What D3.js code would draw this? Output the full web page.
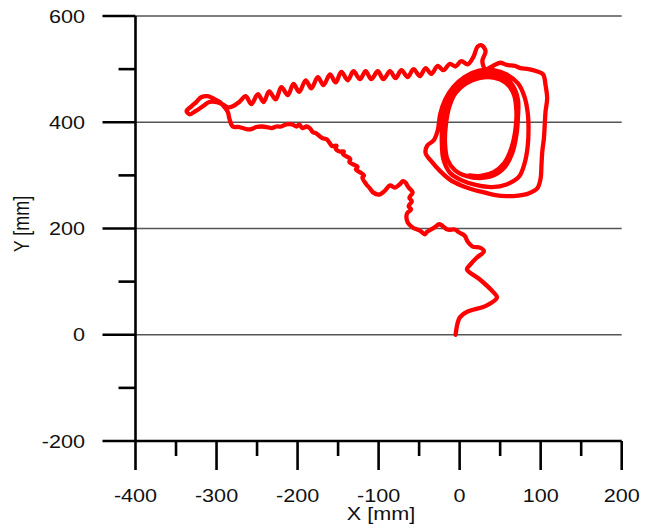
<!DOCTYPE html>
<html>
<head>
<meta charset="utf-8">
<script src="https://cdn.jsdelivr.net/npm/d3@7"></script>
<style>
  body { margin: 0; background: #fff; }
  text { font-family: "Liberation Sans", Arial, sans-serif; fill: #111; }
</style>
</head>
<body>
<div class="canva"></div>
<script>
// tick values
const xTicks = [-400, -300, -200, -100, 0, 100, 200];
const xMinor = [-350, -250, -150, -50, 50, 150];
const yTicks = [-200, 0, 200, 400, 600];
const yMinor = [-100, 100, 300, 500];
const gridY = [0, 200, 400, 600];

// trajectory [x mm, y mm]
const climbLeg = [[-5,0],[0,32],[9,43],[33,55],[46,70],[41,81],[25,104],[9,123],[12,130],[21,145],[30,157],[25,164],[16,166],[10,175],[6,187],[0,192],[-6,198],[-15,198],[-25,208],[-31,202],[-40,194],[-43,189],[-49,196],[-58,202],[-64,211],[-65,228],[-60,236],[-63,242],[-59,251],[-62,258],[-58,268],[-63,277],[-67,287],[-70,289],[-74,283],[-80,277],[-86,281],[-93,270],[-99,264],[-107,268],[-111,276]];

const westLeg = [[-115,283],[-120,296],[-118,300],[-123,306],[-128,311],[-126,316],[-132,321],[-136,325],[-135,331],[-140,336],[-144,340],[-143,345],[-148,345],[-153,351],[-152,356],[-157,355],[-160,360],[-164,368],[-169,370],[-173,374],[-177,379],[-181,381],[-185,389],[-189,392],[-194,389],[-198,396],[-201,392],[-207,396],[-214,396],[-220,392],[-226,392],[-232,389],[-238,391],[-244,392],[-251,391],[-257,387],[-263,387],[-272,391],[-280,392],[-284,406],[-286,419],[-290,428],[-296,438],[-302,443],[-311,449],[-319,447],[-325,438],[-331,430],[-337,421]];

const eastLeg = [[-333,415],[-326,421],[-317,430],[-309,438],[-300,438],[-293,434],[-286,428],[-280,430],[-272,438],[-264,449],[-257,434],[-249,453],[-242,438],[-235,458],[-227,443],[-220,466],[-212,451],[-205,472],[-198,457],[-190,479],[-183,464],[-175,485],[-168,470],[-160,490],[-153,475],[-146,495],[-138,479],[-131,496],[-123,481],[-116,496],[-109,481],[-101,496],[-94,481],[-86,496],[-79,483],[-72,498],[-64,485],[-57,500],[-49,487],[-42,502],[-35,491],[-27,506],[-20,498],[-12,510],[-5,505],[2,515],[10,509],[17,523],[22,542],[27,545],[32,534],[28,515],[32,500]];

const loopLeg = [[40,505],[50,512],[58,508],[68,506],[75,502],[85,500],[95,496],[103,490],[106,470],[108,445],[106,420],[105,395],[104,370],[102,345],[101,320],[100,295],[96,276],[85,266],[72,262],[58,261],[44,263],[30,268],[15,274],[2,281],[-12,292],[-24,308],[-34,325],[-42,342],[-40,356],[-32,366],[-27,385],[-24,415],[-18,442],[-8,466],[6,485],[24,497],[42,498],[58,490],[72,473],[80,448],[84,418],[85,388],[84,355],[80,322],[73,297],[58,283],[40,278],[20,282],[2,291],[-12,305],[-20,330],[-22,362],[-21,400],[-16,432],[-8,457],[4,476],[20,488],[38,492],[54,486],[66,468],[72,442],[72,410],[70,375],[65,342],[56,316],[42,300],[25,295],[8,299],[-6,310],[-15,330],[-18,360],[-17,395],[-13,428],[-5,455],[8,473],[24,483],[42,484],[57,474],[67,452],[70,422],[69,388],[64,352],[55,323],[42,306],[26,299],[12,300]];

const track = climbLeg.concat(westLeg, eastLeg, loopLeg);

const svg = d3.select(".canva").append("svg")
  .attr("width", 647)
  .attr("height", 528);

const x = d3.scaleLinear().domain([-400, 200]).range([135.5, 621.7]);
const y = d3.scaleLinear().domain([-200, 600]).range([441, 16]);

// gridlines
svg.selectAll(".grid").data(gridY).enter().append("line")
  .attr("x1", x(-400)).attr("x2", x(200))
  .attr("y1", d => y(d)).attr("y2", d => y(d))
  .attr("stroke", "#555").attr("stroke-width", 1.6);

// trajectory
const line = d3.line()
  .x(d => x(d[0])).y(d => y(d[1]))
  .curve(d3.curveCatmullRom.alpha(0.5));
svg.append("path")
  .attr("d", line(track))
  .attr("fill", "none")
  .attr("stroke", "#ff0000")
  .attr("stroke-width", 4.3)
  .attr("stroke-linejoin", "round")
  .attr("stroke-linecap", "round");

// axes
const ax = svg.append("g").attr("stroke", "#000").attr("stroke-width", 2.6);
ax.append("line").attr("x1", x(-400)).attr("x2", x(-400)).attr("y1", y(600)).attr("y2", y(-200));
ax.append("line").attr("x1", x(-400)).attr("x2", x(200)).attr("y1", y(-200)).attr("y2", y(-200));

ax.selectAll(".ym").data(yTicks).enter().append("line")
  .attr("x1", x(-400) - 33).attr("x2", x(-400))
  .attr("y1", d => y(d)).attr("y2", d => y(d));
ax.selectAll(".yn").data(yMinor).enter().append("line")
  .attr("x1", x(-400) - 17).attr("x2", x(-400))
  .attr("y1", d => y(d)).attr("y2", d => y(d));
ax.selectAll(".xm").data(xTicks).enter().append("line")
  .attr("x1", d => x(d)).attr("x2", d => x(d))
  .attr("y1", y(-200)).attr("y2", y(-200) + 29);
ax.selectAll(".xn").data(xMinor).enter().append("line")
  .attr("x1", d => x(d)).attr("x2", d => x(d))
  .attr("y1", y(-200)).attr("y2", y(-200) + 15);

// labels (the picture's text is a bit wide)
const sx = 1.2;
svg.selectAll(".yl").data(yTicks).enter().append("text")
  .attr("transform", d => `translate(85,${y(d) + 6.5}) scale(${sx},1)`)
  .attr("text-anchor", "end")
  .attr("font-size", 18)
  .text(d => d);

svg.selectAll(".xl").data(xTicks).enter().append("text")
  .attr("transform", d => `translate(${x(d)},502) scale(${sx},1)`)
  .attr("text-anchor", "middle")
  .attr("font-size", 18)
  .text(d => d);

svg.append("text")
  .attr("transform", `translate(381,520) scale(${sx},1)`)
  .attr("text-anchor", "middle")
  .attr("font-size", 18)
  .text("X [mm]");

svg.append("text")
  .attr("transform", "translate(29,224) rotate(-90) scale(1,1.2)")
  .attr("text-anchor", "middle")
  .attr("font-size", 18)
  .text("Y [mm]");
</script>
</body>
</html>
